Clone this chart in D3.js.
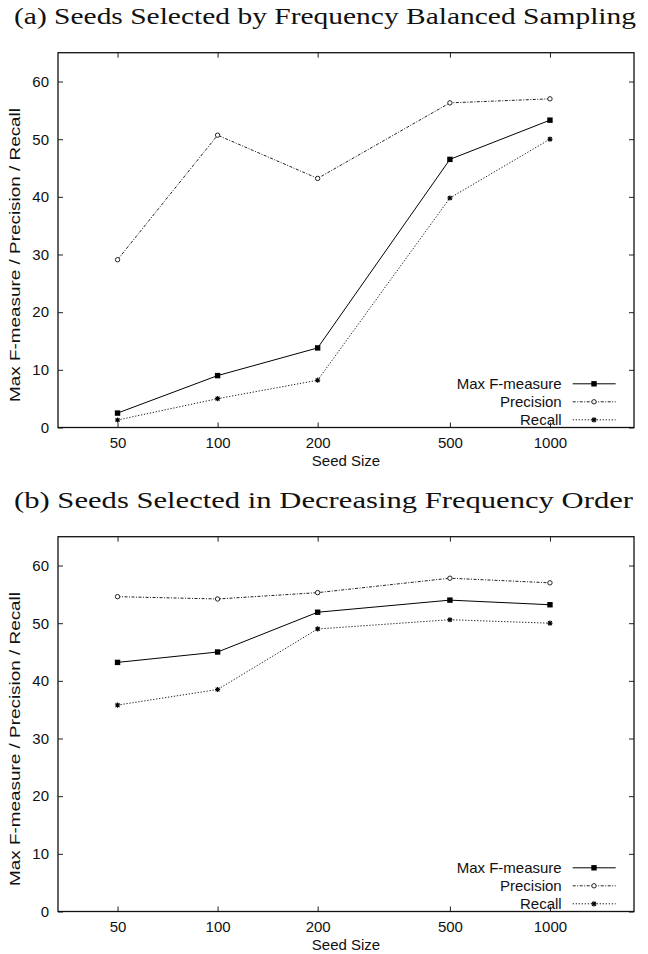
<!DOCTYPE html>
<html><head><meta charset="utf-8">
<script src="https://cdn.jsdelivr.net/npm/d3@7"></script>
<style>body{margin:0;background:#fff}svg{display:block}</style>
</head><body>
<script>
const seedSizes = [50, 100, 200, 500, 1000];
const xTickLabels = ["50", "100", "200", "500", "1000"];
const yTicks = [0, 10, 20, 30, 40, 50, 60];
const seriesNames = ["Max F-measure", "Precision", "Recall"];
const titles = ["(a) Seeds Selected by Frequency Balanced Sampling", "(b) Seeds Selected in Decreasing Frequency Order"];
const aMaxF = [2.5, 9.0, 13.8, 46.5, 53.3];
const aPrecision = [29.1, 50.7, 43.2, 56.3, 57.0];
const aRecall = [1.3, 5.0, 8.2, 39.8, 50.0];
const bMaxF = [43.2, 45.0, 51.9, 54.0, 53.2];
const bPrecision = [54.6, 54.2, 55.3, 57.8, 57.0];
const bRecall = [35.8, 38.5, 49.0, 50.6, 50.0];
const xLabel = "Seed Size";
const yLabel = "Max F-measure / Precision / Recall";

const W = 648, H = 954;
const svg = d3.select("body").append("svg").attr("width", W).attr("height", H);

const panels = [
  {title: titles[0], data: [aMaxF, aPrecision, aRecall], off: 0},
  {title: titles[1], data: [bMaxF, bPrecision, bRecall], off: 484}
];
const styles = [
  {dash: null, marker: "square"},
  {dash: "3,1.5,1,1.5", marker: "circle"},
  {dash: "1.3,1.7", marker: "star"}
];
const sans = "'Liberation Sans', Arial, sans-serif";
const fs = 15;

function drawMarker(g, type, x, y) {
  if (type === "square") {
    g.append("rect").attr("x", x - 2.7).attr("y", y - 2.7).attr("width", 5.4).attr("height", 5.4).attr("fill", "#000");
  } else if (type === "circle") {
    g.append("circle").attr("cx", x).attr("cy", y).attr("r", 2.2).attr("fill", "#fff").attr("stroke", "#222").attr("stroke-width", 1);
  } else {
    const s = 2.6;
    const p = `M${x - s},${y}H${x + s}M${x},${y - s}V${y + s}M${x - s * 0.75},${y - s * 0.75}L${x + s * 0.75},${y + s * 0.75}M${x - s * 0.75},${y + s * 0.75}L${x + s * 0.75},${y - s * 0.75}`;
    g.append("path").attr("d", p).attr("stroke", "#000").attr("stroke-width", 1.1).attr("fill", "none");
  }
}

panels.forEach(p => {
  const top = 52.7 + p.off, bottom = 427.5 + p.off, left = 58, right = 634;
  const x = d3.scaleLog().domain([33.1, 1790]).range([left, right]);
  const y = d3.scaleLinear().domain([0, 65]).range([bottom, top]);
  const g = svg.append("g");

  // title
  g.append("text").attr("x", 14).attr("y", 24 + p.off)
    .attr("font-family", "'Liberation Serif', 'Times New Roman', serif")
    .attr("font-size", 24).attr("fill", "#111")
    .attr("textLength", p.off ? 619 : 622).attr("lengthAdjust", "spacingAndGlyphs")
    .text(p.title);

  // x axis (bottom), ticks inward
  const xAxis = d3.axisBottom(x).tickValues(seedSizes).tickFormat((d, i) => xTickLabels[i]).tickSizeInner(-5).tickSizeOuter(0).tickPadding(10);
  const gx = g.append("g").attr("transform", `translate(0,${bottom})`).call(xAxis);
  gx.select(".domain").remove();
  gx.selectAll("line").attr("stroke", "#222");
  gx.selectAll("text").attr("font-family", sans).attr("font-size", fs).attr("fill", "#111");
  // top mirror ticks
  const gxt = g.append("g").attr("transform", `translate(0,${top})`).call(d3.axisTop(x).tickValues(seedSizes).tickFormat("").tickSizeInner(-5).tickSizeOuter(0));
  gxt.select(".domain").remove();
  gxt.selectAll("line").attr("stroke", "#222");

  // y axis
  const yAxis = d3.axisLeft(y).tickValues(yTicks).tickFormat(d3.format("d")).tickSizeInner(-5).tickSizeOuter(0).tickPadding(9);
  const gy = g.append("g").attr("transform", `translate(${left},0)`).call(yAxis);
  gy.select(".domain").remove();
  gy.selectAll("line").attr("stroke", "#222");
  gy.selectAll("text").attr("font-family", sans).attr("font-size", fs).attr("fill", "#111");
  const gyr = g.append("g").attr("transform", `translate(${right},0)`).call(d3.axisRight(y).tickValues(yTicks).tickFormat("").tickSizeInner(-5).tickSizeOuter(0));
  gyr.select(".domain").remove();
  gyr.selectAll("line").attr("stroke", "#222");

  // frame
  g.append("rect").attr("x", left).attr("y", top).attr("width", right - left).attr("height", bottom - top)
    .attr("fill", "none").attr("stroke", "#111").attr("stroke-width", 1.3);

  // axis labels
  g.append("text").attr("x", (left + right) / 2).attr("y", bottom + 38.5).attr("text-anchor", "middle")
    .attr("font-family", sans).attr("font-size", fs).attr("fill", "#111").text(xLabel);
  g.append("text").attr("transform", `translate(20,${402 + p.off}) rotate(-90)`).attr("text-anchor", "start")
    .attr("font-family", sans).attr("font-size", fs).attr("fill", "#111")
    .attr("textLength", 294).attr("lengthAdjust", "spacingAndGlyphs").text(yLabel);

  // series
  const line = d3.line().x((d, i) => x(seedSizes[i])).y(d => y(d));
  p.data.forEach((vals, si) => {
    const st = styles[si];
    g.append("path").datum(vals).attr("d", line).attr("fill", "none")
      .attr("stroke", si === 0 ? "#000" : "#222").attr("stroke-width", 1)
      .attr("stroke-dasharray", st.dash);
    vals.forEach((v, i) => drawMarker(g, st.marker, x(seedSizes[i]), y(v)));
  });

  // legend
  seriesNames.forEach((name, si) => {
    const ly = bottom - 43.7 + si * 18;
    g.append("text").attr("x", 561.7).attr("y", ly).attr("dy", "0.35em").attr("text-anchor", "end")
      .attr("font-family", sans).attr("font-size", fs).attr("fill", "#111").text(name);
    g.append("line").attr("x1", 572.7).attr("x2", 615.7).attr("y1", ly).attr("y2", ly)
      .attr("stroke", si === 0 ? "#000" : "#222").attr("stroke-width", 1).attr("stroke-dasharray", styles[si].dash);
    drawMarker(g, styles[si].marker, 594, ly);
  });
});
</script>
</body></html>
